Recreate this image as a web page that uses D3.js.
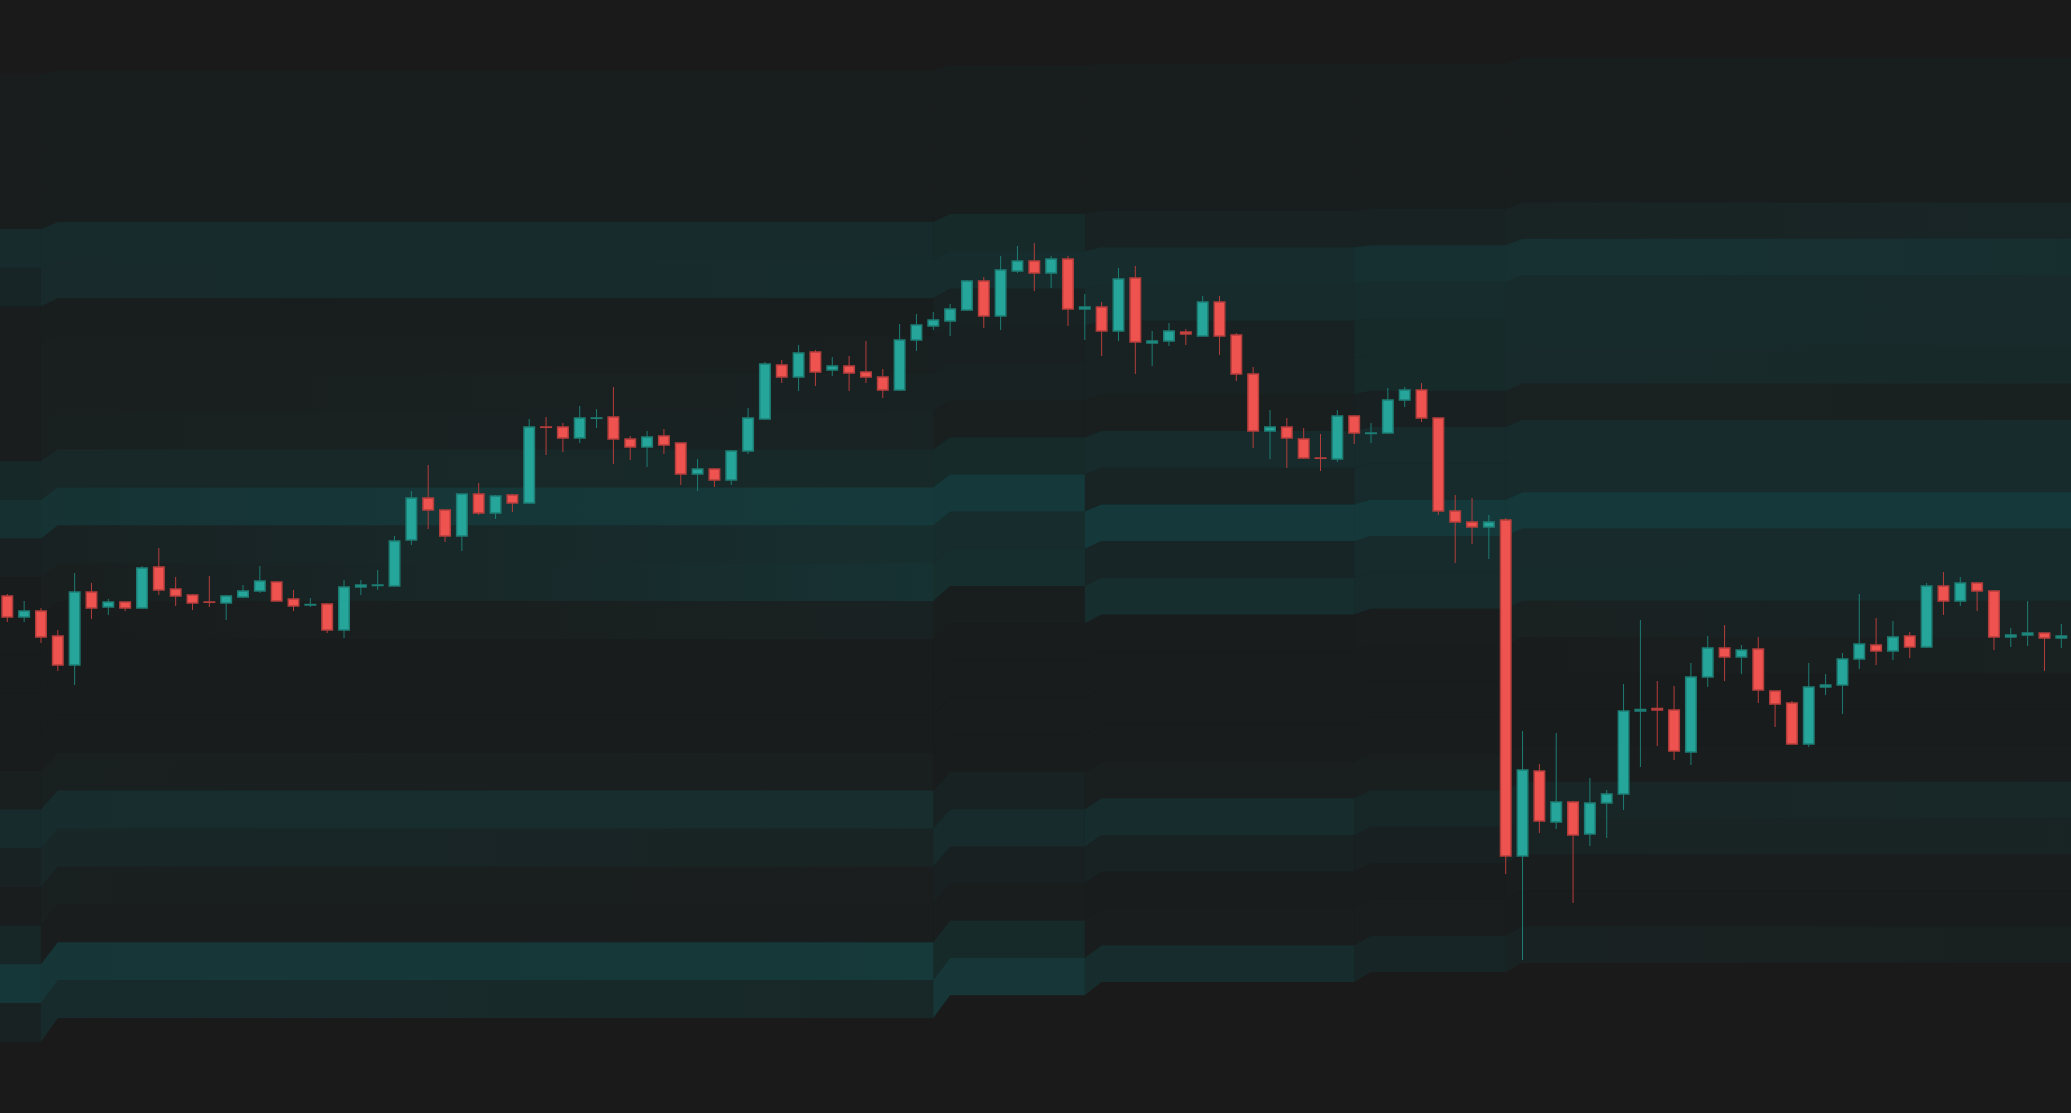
<!DOCTYPE html>
<html><head><meta charset="utf-8">
<script src="https://cdn.jsdelivr.net/npm/d3@7"></script>
<style>html,body{margin:0;padding:0;background:#1a1a1a;overflow:hidden}</style>
</head><body><svg id="c" width="2071" height="1113"></svg>
<script>
const opens = [140.4,138.3,138.9,136.4,133.5,140.8,139.3,139.8,139.2,143.3,
141.1,140.5,139.8,139.7,140.3,140.9,141.8,140.1,139.5,139.6,
137.0,141.3,141.45,141.4,146.0,150.2,149.0,146.4,150.6,148.7,
150.5,149.7,157.3,157.3,156.2,158.17,158.3,156.1,155.3,156.4,
155.7,152.6,153.1,152.0,154.9,158.1,163.5,162.3,164.8,163.0,
163.4,162.8,162.3,161.0,166.0,167.4,167.9,169.0,171.9,168.4,
172.9,173.9,172.7,174.1,169.1,169.3,166.9,172.2,165.7,165.9,
166.8,166.4,169.8,166.5,162.6,156.9,157.3,156.1,154.2,154.1,
158.4,156.65,156.7,160.0,161.0,158.2,148.9,147.8,147.3,148.0,
114.4,122.9,117.8,119.8,116.6,119.7,120.6,128.9,129.15,129.0,
124.8,132.3,135.2,134.3,135.1,130.9,129.7,125.6,131.3,131.5,
134.1,135.5,134.9,136.4,135.3,141.4,139.9,141.7,140.9,136.3,
136.5,136.7,136.2];
const highs = [140.6,139.9,139.2,137.0,142.7,141.7,140.1,139.8,143.4,145.2,
142.3,140.6,142.4,140.5,141.5,143.4,141.9,141.0,140.2,139.7,
142.0,142.0,143.0,146.4,150.9,153.5,149.0,150.6,151.7,150.5,
150.6,158.1,158.3,157.7,159.4,159.1,161.3,156.4,156.9,157.1,
155.7,154.1,153.2,155.0,159.2,163.8,164.0,165.5,165.0,164.3,
164.4,165.9,163.1,167.6,168.6,168.8,169.6,172.0,172.3,174.4,
175.4,175.7,174.4,174.4,170.6,169.8,173.2,173.4,166.9,167.7,
167.1,170.4,170.4,166.7,163.3,159.0,158.2,157.2,156.6,159.0,
158.5,157.7,161.2,161.3,161.7,158.2,150.5,150.2,148.5,148.2,
126.9,123.6,126.7,119.9,122.2,121.0,131.6,138.0,131.9,131.4,
133.7,136.4,137.5,135.5,136.3,130.9,129.9,133.7,132.6,134.7,
140.6,138.2,137.9,136.8,141.7,142.8,142.3,141.8,141.0,137.2,
139.9,136.7,137.6];
const lows = [137.8,137.8,135.7,132.9,131.5,138.1,138.5,138.9,139.1,140.5,
139.4,139.0,139.3,138.0,140.2,140.7,139.9,138.9,139.3,136.7,
136.2,140.5,141.0,141.4,145.5,147.1,145.8,144.9,148.5,148.1,
148.8,149.6,154.5,154.8,155.7,157.2,153.6,154.0,153.3,154.6,
151.5,150.9,151.3,151.5,154.6,158.0,161.7,160.9,161.4,162.4,
160.9,161.7,160.2,160.9,164.9,167.0,166.4,168.9,167.2,167.0,
172.7,170.9,171.2,167.4,166.0,164.4,165.9,162.6,163.4,165.4,
165.5,166.4,164.5,161.9,155.2,154.1,153.2,154.1,152.9,153.8,
155.6,155.7,156.6,159.3,157.8,148.5,143.7,145.6,144.1,112.6,
104.0,116.7,117.1,109.7,115.4,116.2,119.0,123.3,125.4,124.0,
123.5,131.3,131.9,132.6,129.7,127.3,125.6,125.3,130.5,128.6,
133.1,133.5,134.0,134.2,135.2,138.5,139.4,138.9,135.0,135.3,
135.4,132.9,135.2];
const closes = [138.3,138.9,136.3,133.5,140.8,139.2,139.8,139.2,143.2,141.0,
140.4,139.7,139.78,140.4,140.9,141.9,139.9,139.4,139.55,137.0,
141.3,141.5,141.5,145.9,150.2,149.0,146.4,150.6,148.7,150.4,
149.7,157.3,157.27,156.2,158.2,158.2,156.1,155.3,156.3,155.5,
152.6,153.1,152.0,154.9,158.2,163.6,162.3,164.7,162.8,163.4,
162.7,162.3,161.0,166.0,167.5,168.0,169.1,171.9,168.4,173.0,
173.9,172.7,174.1,169.1,169.3,166.9,172.1,165.8,165.9,166.9,
166.6,169.8,166.4,162.6,156.9,157.3,156.2,154.2,154.17,158.4,
156.7,156.7,160.0,161.0,158.2,148.9,147.8,147.3,147.8,114.4,
123.0,117.9,119.8,116.5,119.7,120.6,128.9,129.05,129.0,124.9,
132.3,135.2,134.3,135.0,131.0,129.6,125.6,131.3,131.5,134.1,
135.6,134.9,136.3,135.3,141.4,139.9,141.7,140.9,136.3,136.5,
136.7,136.2,136.4];

// volume-profile sessions (candle index ranges) and their price ranges
const sessionStart = [0, 3, 56, 65, 81, 90];
const sessionEnd   = [2, 55, 64, 80, 89, 122];
const sessionHigh  = [192.58, 192.95, 193.48, 193.65, 193.63, 194.22];
const sessionLow   = [95.83, 98.2, 100.48, 101.8, 102.8, 103.72];
// intensity of each of the 25 price rows (top to bottom), at the start and end of each session
const profile0 = [0.03,0.03,0.03,0.03,0.15,0.10,0.03,0.03,0.03,0.03,0.13,0.20,0.06,0.02,0.02,0.02,0.02,0.02,0.05,0.15,0.08,0.03,0.12,0.26,0.08];
const profile1Start = [0.04,0.04,0.04,0.04,0.15,0.14,0.04,0.04,0.04,0.05,0.12,0.22,0.07,0.04,0.02,0.02,0.02,0.02,0.05,0.16,0.11,0.05,0.03,0.24,0.15];
const profile1End   = [0.04,0.04,0.04,0.04,0.15,0.16,0.04,0.05,0.07,0.08,0.13,0.28,0.18,0.21,0.07,0.02,0.02,0.02,0.04,0.17,0.08,0.03,0.03,0.27,0.12];
const profile2 = [0.04,0.04,0.04,0.04,0.14,0.17,0.07,0.06,0.07,0.05,0.14,0.28,0.17,0.18,0.04,0.02,0.02,0.02,0.02,0.07,0.15,0.06,0.03,0.14,0.25];
const profile3 = [0.04,0.04,0.04,0.04,0.08,0.17,0.15,0.07,0.07,0.05,0.15,0.09,0.28,0.10,0.18,0.02,0.02,0.02,0.02,0.05,0.16,0.07,0.02,0.03,0.17];
const profile4 = [0.04,0.04,0.04,0.04,0.08,0.20,0.16,0.14,0.14,0.06,0.15,0.15,0.28,0.15,0.15,0.03,0.02,0.02,0.02,0.05,0.12,0.06,0.02,0.03,0.10];
const profile5Start = [0.04,0.04,0.04,0.04,0.08,0.20,0.15,0.15,0.14,0.06,0.15,0.15,0.28,0.14,0.15,0.06,0.02,0.02,0.02,0.03,0.10,0.08,0.03,0.02,0.07];
const profile5End   = [0.04,0.04,0.04,0.04,0.10,0.18,0.14,0.14,0.13,0.05,0.15,0.15,0.28,0.15,0.15,0.08,0.06,0.02,0.02,0.03,0.12,0.09,0.03,0.02,0.05];

const W = 2071, H = 1113;
const profStart = [profile0, profile1Start, profile2, profile3, profile4, profile5Start];
const profEnd   = [profile0, profile1End,   profile2, profile3, profile4, profile5End];
const nRows = 25;
const svg = d3.select('#c');
const defs = svg.append('defs');
svg.append('rect').attr('width', W).attr('height', H).attr('fill', '#1a1a1a');

const x = d3.scaleLinear().domain([0, opens.length - 1]).range([7.3, 2061.3]);
const y = d3.scaleLinear().domain([88.7, 200]).range([H, 0]);

const rowEdges = (s, r) => {
  const step = (sessionHigh[s] - sessionLow[s]) / nRows;
  return [y(sessionHigh[s] - r * step), y(sessionHigh[s] - (r + 1) * step)];
};
const area = d3.area().x(d => d.x).y0(d => d.y0).y1(d => d.y1);
const gBg = svg.append('g');
const teal = 'rgb(10,140,145)';
profStart.forEach((prof, s) => {
  prof.forEach((a0, r) => {
    const a1 = profEnd[s][r];
    const [t, b] = rowEdges(s, r);
    const pts = [];
    if (s === 0) pts.push({x: 0, y0: t, y1: b});
    else { const [pt, pb] = rowEdges(s - 1, r); pts.push({x: x(sessionEnd[s - 1]), y0: pt, y1: pb}); }
    pts.push({x: s === 0 ? 0 : x(sessionStart[s]), y0: t, y1: b});
    pts.push({x: s === profStart.length - 1 ? W : x(sessionEnd[s]), y0: t, y1: b});
    const p = gBg.append('path').attr('d', area(pts));
    if (a0 === a1) {
      p.attr('fill', teal).attr('fill-opacity', a0);
    } else {
      const id = `g${s}_${r}`;
      const lg = defs.append('linearGradient').attr('id', id)
        .attr('gradientUnits', 'userSpaceOnUse')
        .attr('x1', x(sessionStart[s])).attr('x2', x(sessionEnd[s])).attr('y1', 0).attr('y2', 0);
      lg.append('stop').attr('offset', 0).attr('stop-color', teal).attr('stop-opacity', a0);
      lg.append('stop').attr('offset', 1).attr('stop-color', teal).attr('stop-opacity', a1);
      p.attr('fill', `url(#${id})`);
    }
  });
});

const up = '#26a69a', dn = '#ef5350';
const upB = '#1d7d74', dnB = '#b43e3c';
const g = svg.append('g');
opens.forEach((o, i) => {
  const c = closes[i], isUp = c >= o;
  const cx = x(i);
  g.append('line').attr('x1', cx).attr('x2', cx)
    .attr('y1', y(highs[i])).attr('y2', y(lows[i]))
    .attr('stroke', isUp ? upB : dnB).attr('stroke-width', 1);
  g.append('rect').attr('x', cx - 5.25).attr('width', 10.5)
    .attr('y', y(Math.max(o, c))).attr('height', Math.abs(y(o) - y(c)))
    .attr('fill', isUp ? up : dn)
    .attr('stroke', isUp ? upB : dnB).attr('stroke-width', 1.5);
});
</script></body></html>
